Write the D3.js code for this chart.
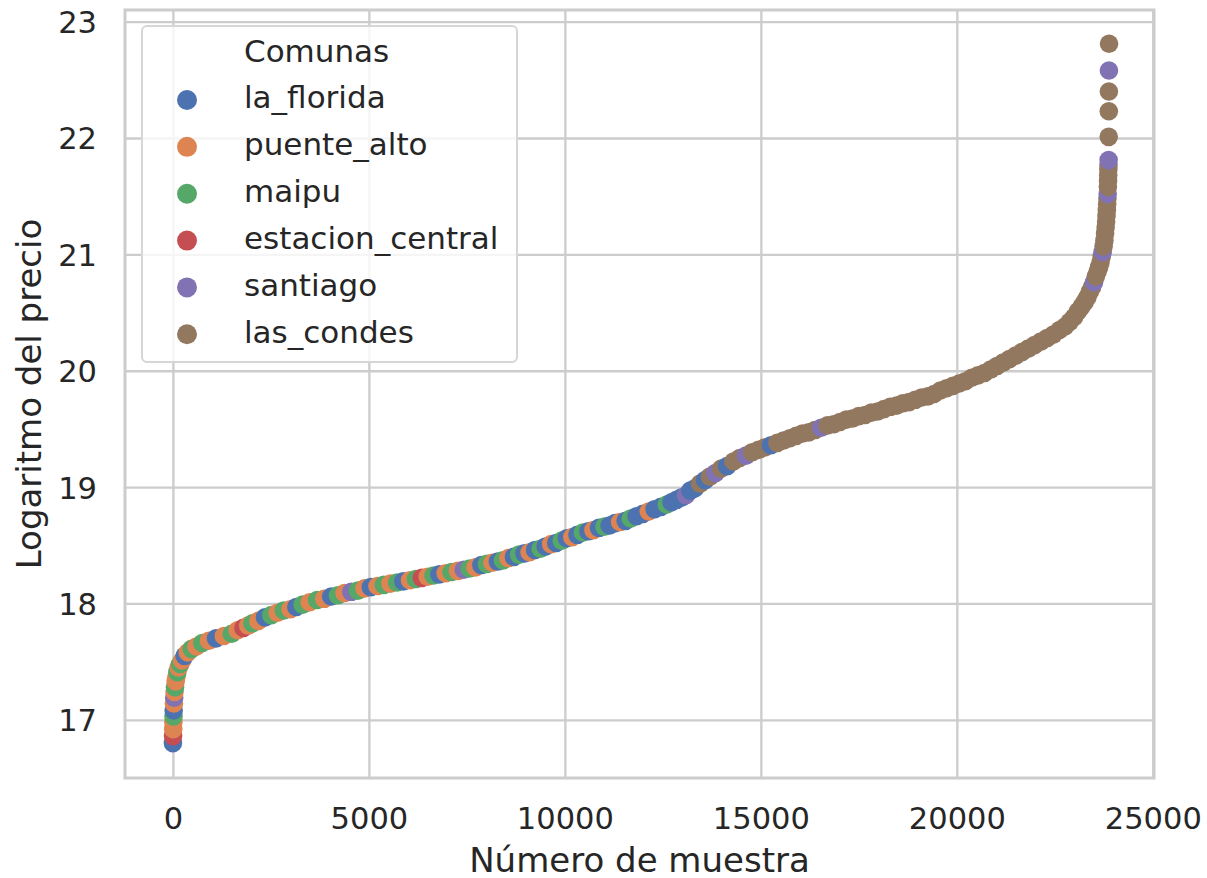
<!DOCTYPE html>
<html>
<head>
<meta charset="utf-8">
<script src="https://cdn.jsdelivr.net/npm/d3@7"></script>
<style>
  html, body { margin: 0; padding: 0; background: #ffffff; }
  svg { display: block; }
  text { font-family: "DejaVu Sans", sans-serif; fill: #262626; }
</style>
</head>
<body>
<svg id="chart" width="1207" height="878"></svg>
<script>
// ---- Data ----
const comunas = ["la_florida", "puente_alto", "maipu", "estacion_central", "santiago", "las_condes"];
const comunaColors = ["#4c72b0", "#dd8452", "#55a868", "#c44e52", "#8172b3", "#937860"];

const sampleIdx = [
  0, 4, 8, 12, 16, 20, 26, 33, 42, 54, 70, 90, 115, 145, 185, 235, 300, 380, 480, 600,
  750, 920, 1100, 1300, 1500, 1650, 1800, 1920, 2030, 2180, 2350, 2510, 2670, 2830, 3000, 3150,
  3310, 3490, 3680, 3860, 4040, 4210, 4380, 4550, 4720, 4890, 5050, 5220, 5380, 5550, 5720, 5880,
  6050, 6200, 6350, 6500, 6650, 6800, 6960, 7110, 7270, 7420, 7570, 7720, 7870, 8010, 8150, 8290,
  8420, 8560, 8700, 8830, 8970, 9100, 9240, 9380, 9510, 9650, 9780, 9920, 10050, 10190, 10320, 10460,
  10600, 10730, 10870, 11010, 11140, 11280, 11410, 11550, 11680, 11830, 11990, 12140, 12290, 12450, 12600, 12720,
  12850, 12970, 13090, 13200, 13320, 13450, 13580, 13700, 13840, 13990, 14140, 14300, 14460, 14620, 14780, 14940,
  15100, 15260, 15420, 15580, 15740, 15900, 16060, 16220, 16380, 16540, 16700, 16860, 17020, 17180, 17340, 17500,
  17660, 17820, 17980, 18140, 18300, 18460, 18620, 18780, 18940, 19100, 19260, 19420, 19580, 19740, 19900, 20060,
  20220, 20380, 20540, 20700, 20860, 21020, 21180, 21340, 21500, 21660, 21820, 21980, 22140, 22300, 22460, 22620,
  22760, 22880, 22990, 23090, 23180, 23260, 23330, 23395, 23450, 23500, 23545, 23590, 23630, 23665, 23695, 23720,
  23745, 23765, 23782, 23796, 23808, 23818, 23827, 23835, 23842, 23848, 23853, 23858, 23862, 23866, 23869, 23872,
  23875, 23877, 23879, 23881, 23883
];

const logPrice = [
  16.80, 16.86, 16.92, 16.98, 17.03, 17.08, 17.14, 17.19, 17.24, 17.28, 17.33, 17.37, 17.41, 17.45, 17.48, 17.51, 17.55, 17.58, 17.61, 17.63,
  17.66, 17.68, 17.70, 17.72, 17.74, 17.77, 17.79, 17.81, 17.83, 17.85, 17.88, 17.90, 17.92, 17.94, 17.95, 17.97,
  17.99, 18.01, 18.03, 18.04, 18.06, 18.07, 18.09, 18.10, 18.11, 18.13, 18.14, 18.15, 18.16, 18.17, 18.18, 18.19,
  18.20, 18.21, 18.22, 18.23, 18.24, 18.25, 18.26, 18.27, 18.28, 18.29, 18.30, 18.31, 18.33, 18.34, 18.35, 18.36,
  18.37, 18.39, 18.40, 18.42, 18.43, 18.44, 18.46, 18.47, 18.49, 18.51, 18.52, 18.54, 18.56, 18.57, 18.59, 18.61,
  18.62, 18.63, 18.65, 18.66, 18.67, 18.69, 18.70, 18.71, 18.73, 18.75, 18.77, 18.79, 18.81, 18.83, 18.85, 18.87,
  18.89, 18.91, 18.93, 18.97, 18.99, 19.03, 19.06, 19.09, 19.12, 19.16, 19.18, 19.22, 19.25, 19.27, 19.30, 19.32,
  19.34, 19.36, 19.38, 19.40, 19.42, 19.44, 19.46, 19.47, 19.49, 19.51, 19.53, 19.54, 19.56, 19.58, 19.59, 19.61,
  19.62, 19.64, 19.65, 19.67, 19.69, 19.70, 19.72, 19.73, 19.75, 19.77, 19.78, 19.80, 19.83, 19.85, 19.87, 19.89,
  19.91, 19.94, 19.96, 19.98, 20.01, 20.04, 20.07, 20.10, 20.13, 20.16, 20.19, 20.22, 20.25, 20.28, 20.31, 20.35,
  20.38, 20.42, 20.46, 20.51, 20.55, 20.59, 20.63, 20.68, 20.72, 20.76, 20.81, 20.85, 20.89, 20.93, 20.98, 21.02,
  21.07, 21.12, 21.18, 21.23, 21.28, 21.33, 21.38, 21.43, 21.48, 21.52, 21.58, 21.63, 21.68, 21.73, 21.77, 21.81,
  22.01, 22.23, 22.40, 22.58, 22.81
];

// 0 la_florida, 1 puente_alto, 2 maipu, 3 estacion_central, 4 santiago, 5 las_condes
const comunaIdx = [
  0, 3, 1, 1, 2, 0, 1, 4, 1, 2, 1, 1, 2, 1, 2, 1, 0, 1, 2, 1,
  2, 1, 0, 1, 2, 1, 3, 1, 2, 1, 0, 2, 1, 2, 1, 0,
  2, 1, 2, 1, 0, 2, 1, 4, 2, 1, 0, 1, 2, 1, 2, 0,
  1, 2, 3, 1, 2, 0, 1, 2, 1, 4, 2, 1, 0, 2, 1, 0,
  2, 1, 0, 2, 0, 1, 0, 2, 0, 1, 0, 2, 0, 1, 0, 2,
  0, 1, 0, 2, 0, 0, 1, 0, 2, 0, 0, 1, 0, 0, 2, 0,
  0, 0, 4, 0, 0, 5, 0, 5, 4, 5, 0, 5, 5, 4, 5, 5,
  5, 0, 5, 5, 5, 5, 5, 5, 5, 4, 5, 5, 5, 5, 5, 5,
  5, 5, 5, 5, 5, 5, 5, 5, 5, 5, 5, 5, 5, 5, 5, 5,
  5, 5, 5, 5, 5, 5, 5, 5, 5, 5, 5, 5, 5, 5, 5, 5,
  5, 5, 5, 5, 5, 5, 5, 5, 5, 4, 5, 5, 5, 5, 5, 4,
  5, 5, 5, 5, 5, 5, 5, 5, 5, 4, 5, 5, 5, 5, 5, 4,
  5, 5, 5, 4, 5
];

const xTicks = [0, 5000, 10000, 15000, 20000, 25000];
const yTicks = [17, 18, 19, 20, 21, 22, 23];
const xLabel = "Número de muestra";
const yLabel = "Logaritmo del precio";
const legendTitle = "Comunas";

// ---- Layout ----
const svg = d3.select("#chart");
const plot = { left: 125, right: 1154, top: 10, bottom: 778 };

const x = d3.scaleLinear().domain([-1222, 25030]).range([plot.left, plot.right]);
const y = d3.scaleLinear().domain([16.5, 23.1]).range([plot.bottom, plot.top]);
const color = d3.scaleOrdinal().domain(comunas).range(comunaColors);

const gridColor = "#cccccc";

// grid lines
const gxGrid = svg.append("g")
  .attr("transform", `translate(0,${plot.bottom})`)
  .call(d3.axisBottom(x).tickValues(xTicks).tickSize(-(plot.bottom - plot.top)).tickFormat(""));
gxGrid.select(".domain").remove();
gxGrid.selectAll("line").attr("stroke", gridColor).attr("stroke-width", 2.3);

const gyGrid = svg.append("g")
  .attr("transform", `translate(${plot.left},0)`)
  .call(d3.axisLeft(y).tickValues(yTicks).tickSize(-(plot.right - plot.left)).tickFormat(""));
gyGrid.select(".domain").remove();
gyGrid.selectAll("line").attr("stroke", gridColor).attr("stroke-width", 2.3);

// tick labels
const gx = svg.append("g")
  .attr("transform", `translate(0,${plot.bottom})`)
  .call(d3.axisBottom(x).tickValues(xTicks).tickSize(0).tickPadding(29).tickFormat(d3.format("d")));
gx.select(".domain").remove();
gx.selectAll("text").attr("font-size", 30.5).attr("fill", "#262626")
  .style("font-family", "'DejaVu Sans', sans-serif");

const gy = svg.append("g")
  .attr("transform", `translate(${plot.left},0)`)
  .call(d3.axisLeft(y).tickValues(yTicks).tickSize(0).tickPadding(28).tickFormat(d3.format("d")));
gy.select(".domain").remove();
gy.selectAll("text").attr("font-size", 30.5).attr("dy", "0.36em").attr("fill", "#262626")
  .style("font-family", "'DejaVu Sans', sans-serif");

// points
const points = sampleIdx.map((s, i) => ({ s: s, v: logPrice[i], c: comunas[comunaIdx[i]] }));
svg.append("g")
  .selectAll("circle")
  .data(points)
  .join("circle")
  .attr("cx", d => x(d.s))
  .attr("cy", d => y(d.v))
  .attr("r", 9.3)
  .attr("fill", d => color(d.c));

// spines
svg.append("rect")
  .attr("x", plot.left).attr("y", plot.top)
  .attr("width", plot.right - plot.left).attr("height", plot.bottom - plot.top)
  .attr("fill", "none").attr("stroke", gridColor).attr("stroke-width", 3);

// axis labels
svg.append("text")
  .attr("x", (plot.left + plot.right) / 2).attr("y", 871.5)
  .attr("text-anchor", "middle").attr("font-size", 34)
  .text(xLabel);

svg.append("text")
  .attr("transform", `translate(41,${(plot.top + plot.bottom) / 2}) rotate(-90)`)
  .attr("text-anchor", "middle").attr("font-size", 34)
  .text(yLabel);

// legend
const lg = svg.append("g");
lg.append("rect")
  .attr("x", 142).attr("y", 26).attr("width", 375).attr("height", 336)
  .attr("rx", 5).attr("ry", 5)
  .attr("fill", "#ffffff").attr("fill-opacity", 0.8)
  .attr("stroke", "#d6d6d6").attr("stroke-width", 2);
lg.append("text").attr("x", 244).attr("y", 62.3).attr("font-size", 31).text(legendTitle);
const rowY = d3.scaleLinear().domain([0, comunas.length - 1]).range([100, 334.3]);
comunas.forEach((name, i) => {
  lg.append("circle").attr("cx", 187).attr("cy", rowY(i)).attr("r", 10).attr("fill", color(name));
  lg.append("text").attr("x", 244).attr("y", rowY(i) + 8.3).attr("font-size", 31).text(name);
});
</script>
</body>
</html>
